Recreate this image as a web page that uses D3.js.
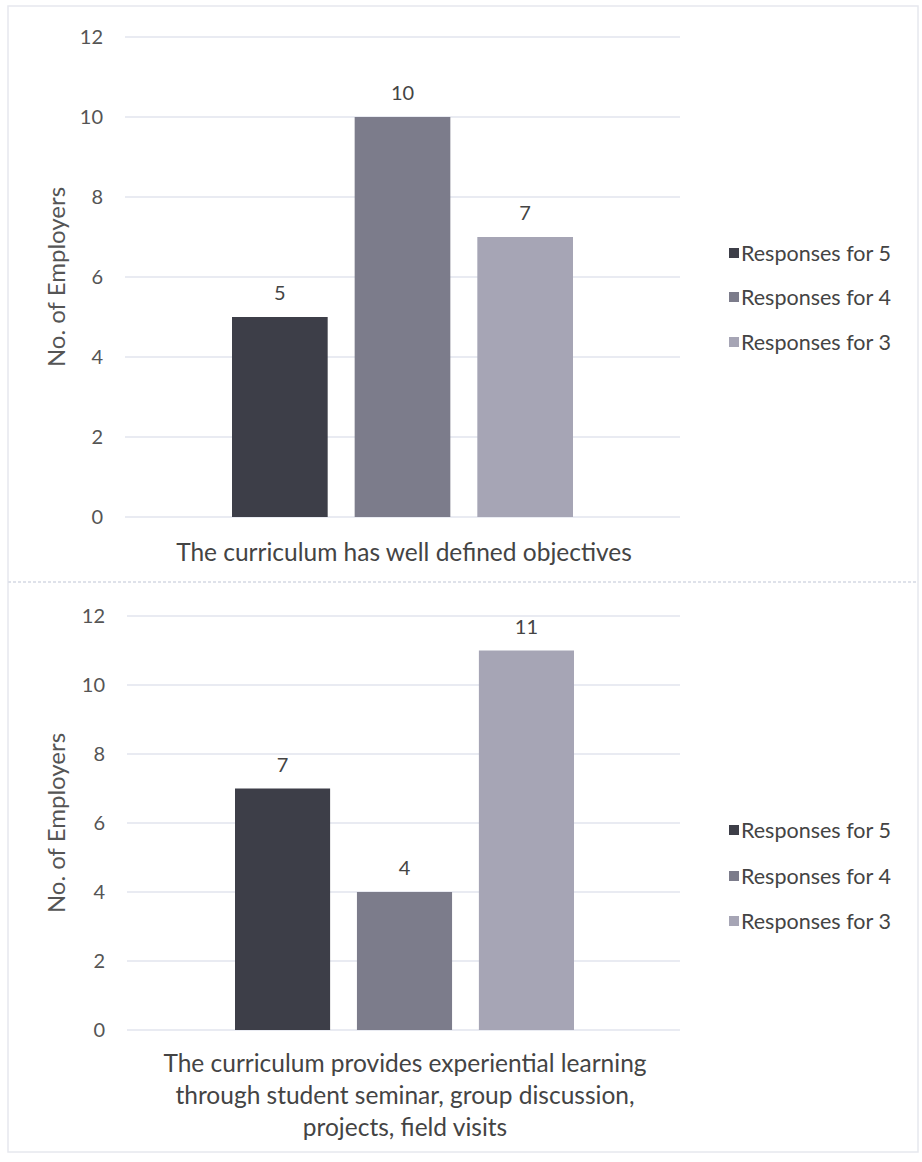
<!DOCTYPE html>
<html><head><meta charset="utf-8">
<script src="https://cdn.jsdelivr.net/npm/d3@7"></script>
<style>body{margin:0;background:#fff}svg{display:block}</style>
</head><body>
<script>
const seriesNames = ["Responses for 5", "Responses for 4", "Responses for 3"];
const seriesColors = ["#3d3e48", "#7c7c8b", "#a6a5b5"];
const chart1Values = [5, 10, 7];
const chart2Values = [7, 4, 11];
const yTicks = [0, 2, 4, 6, 8, 10, 12];
const chart1Category = ["The curriculum has well defined objectives"];
const chart2Category = ["The curriculum provides experiential learning", "through student seminar, group discussion,", "projects, field visits"];
const yTitle = "No. of Employers";

const W = 922, H = 1162;
const svg = d3.select("body").append("svg").attr("width", W).attr("height", H);
const FONT = "Lato, 'Open Sans', sans-serif";

// outer frame & divider
svg.append("rect").attr("x", 8).attr("y", 6).attr("width", 910).attr("height", 1146)
  .attr("fill", "none").attr("stroke", "#e6e8ee").attr("stroke-width", 1.5);
svg.append("line").attr("x1", 8).attr("x2", 918).attr("y1", 582).attr("y2", 582)
  .attr("stroke", "#dfe2ea").attr("stroke-width", 2).attr("stroke-dasharray", "3,2");

function drawChart(cfg) {
  const g = svg.append("g");
  const y = d3.scaleLinear().domain([0, 12]).range([cfg.y0, cfg.y12]);
  const x = d3.scaleBand().domain(seriesNames).range(cfg.xRange).paddingInner(0.22).paddingOuter(0);
  // grid
  g.append("g").selectAll("line").data(yTicks).join("line")
    .attr("x1", cfg.gridX[0]).attr("x2", cfg.gridX[1])
    .attr("y1", d => y(d)).attr("y2", d => y(d))
    .attr("stroke", "#e2e5ee").attr("stroke-width", 1.5);
  // y axis via d3 axis
  const ax = g.append("g").attr("transform", `translate(${cfg.gridX[0] - 22},0)`)
    .call(d3.axisLeft(y).tickValues(yTicks).tickSize(0).tickPadding(0));
  ax.select(".domain").remove();
  ax.selectAll("text").attr("font-family", FONT).attr("font-size", 20).attr("fill", "#555");
  // y title
  g.append("text").attr("transform", `translate(65,${(cfg.y0 + cfg.y12) / 2}) rotate(-90)`)
    .attr("text-anchor", "middle").attr("font-family", FONT).attr("font-size", 24).attr("fill", "#555")
    .text(yTitle);
  // bars
  g.append("g").selectAll("rect").data(cfg.values).join("rect")
    .attr("x", (d, i) => x(seriesNames[i])).attr("width", x.bandwidth())
    .attr("y", d => y(d)).attr("height", d => y(0) - y(d))
    .attr("fill", (d, i) => seriesColors[i]);
  // value labels
  g.append("g").selectAll("text").data(cfg.values).join("text")
    .attr("x", (d, i) => x(seriesNames[i]) + x.bandwidth() / 2)
    .attr("y", d => y(d) - 17).attr("text-anchor", "middle")
    .attr("font-family", FONT).attr("font-size", 20).attr("fill", "#444")
    .text(d => d);
  // category label
  g.append("g").selectAll("text").data(cfg.category).join("text")
    .attr("x", cfg.catX).attr("y", (d, i) => cfg.catY + i * 32).attr("text-anchor", "middle")
    .attr("font-family", FONT).attr("font-size", 24.5).attr("fill", "#444")
    .text(d => d);
  // legend
  const lg = g.append("g").selectAll("g").data(seriesNames).join("g")
    .attr("transform", (d, i) => `translate(729,${cfg.legY[i]})`);
  lg.append("rect").attr("x", 0).attr("y", -5).attr("width", 10).attr("height", 10)
    .attr("fill", (d, i) => seriesColors[i]);
  lg.append("text").attr("x", 12).attr("y", 0).attr("dy", "0.35em")
    .attr("font-family", FONT).attr("font-size", 21.5).attr("fill", "#444").text(d => d);
}

drawChart({ values: chart1Values, y0: 517, y12: 37, xRange: [232, 573], gridX: [125, 680],
  category: chart1Category, catX: 404, catY: 561, legY: [253, 297, 342] });
drawChart({ values: chart2Values, y0: 1030, y12: 616, xRange: [235, 574], gridX: [127, 680],
  category: chart2Category, catX: 405, catY: 1072, legY: [830, 876, 921] });
</script>
</body></html>
